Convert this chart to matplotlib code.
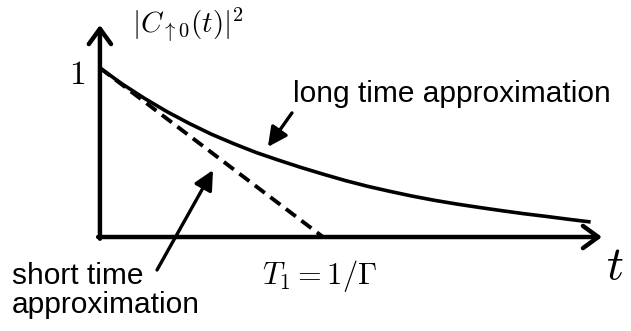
import matplotlib
matplotlib.use("Agg")
import matplotlib.pyplot as plt

plt.rcParams['mathtext.fontset'] = 'cm'
plt.rcParams['font.family'] = ['Liberation Sans', 'DejaVu Sans']

# time in units of T1, population
t_long = [0.0, 0.1, 0.2, 0.3, 0.4, 0.5, 0.6, 0.7, 0.8, 0.9, 1.0, 1.1,
          1.2, 1.3, 1.4, 1.5, 1.6, 1.7, 1.8, 1.9, 2.0, 2.1, 2.2]
p_long = [1.0, 0.905, 0.82, 0.742, 0.672, 0.608, 0.552, 0.50, 0.455, 0.412, 0.372, 0.334,
          0.300, 0.270, 0.242, 0.217, 0.195, 0.175, 0.156, 0.138, 0.122, 0.105, 0.089]

# short time (linear) approximation: 1 at t=0, 0 at t=T1
t_short = [0.0, 1.0]
p_short = [1.0, 0.0]

fig = plt.figure(figsize=(6.31, 3.31), dpi=100)
ax = fig.add_axes([0, 0, 1, 1])
ax.set_xlim(-0.448, 2.381)
ax.set_ylim(-0.556, 1.402)
ax.axis('off')

# axes drawn as arrows
axis_style = dict(arrowstyle='->,head_length=0.55,head_width=0.4', lw=3.2,
                  color='black', mutation_scale=20, shrinkA=0, shrinkB=0)
ax.annotate('', xy=(0, 1.254), xytext=(0, -0.01), arrowprops=axis_style)
ax.annotate('', xy=(2.251, 0), xytext=(-0.008, 0), arrowprops=axis_style)

ax.plot(t_long, p_long, color='black', lw=2.6, solid_capstyle='butt')
ax.plot(t_short, p_short, color='black', lw=2.8, dashes=(3.2, 1.8))

ax.text(-0.103, 0.953, r'$1$', fontsize=24, ha='center', va='center')
ax.text(0.395, 1.26, r'$|C_{\uparrow 0}(t)|^2$', fontsize=21, ha='center', va='center')
ax.text(2.309, -0.178, r'$t$', fontsize=34, ha='center', va='center')
ax.text(0.987, -0.231, r'$T_1 = 1/\Gamma$', fontsize=22, ha='center', va='center')

ax.text(0.865, 0.80, 'long time approximation', fontsize=21.5, ha='left', va='baseline')
ax.text(-0.395, -0.15, 'short time\napproximation', fontsize=21.5, ha='left', va='top',
        linespacing=1.05)

pointer = dict(arrowstyle='-|>,head_length=0.9,head_width=0.45', lw=2.4,
               color='black', mutation_scale=13, shrinkA=0, shrinkB=0)
ax.annotate('', xy=(0.753, 0.533), xytext=(0.861, 0.734), arrowprops=pointer)
ax.annotate('', xy=(0.507, 0.396), xytext=(0.256, -0.195), arrowprops=pointer)

fig.savefig('out.png', dpi=100)
